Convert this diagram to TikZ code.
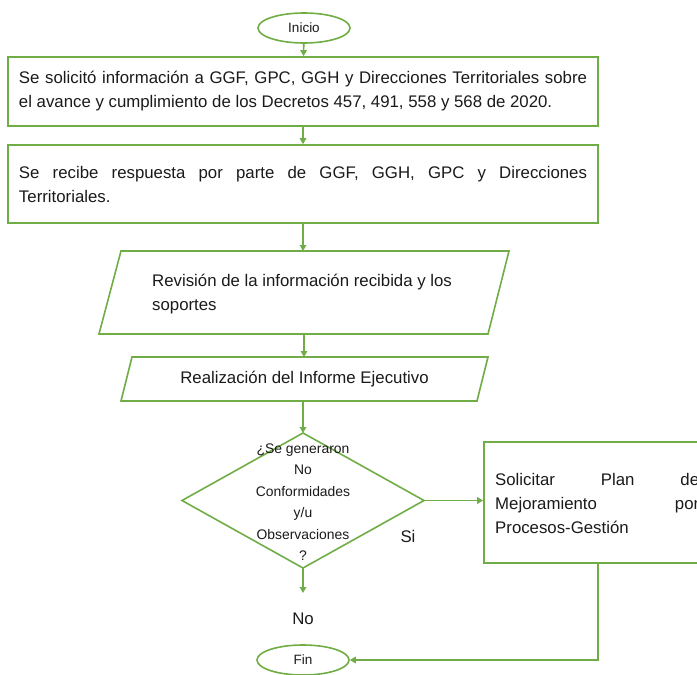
\documentclass[tikz,border=0pt]{standalone}
\usepackage{fontspec}
\setmainfont{Liberation Sans}
\usetikzlibrary{shapes.geometric,arrows.meta}
\definecolor{gr}{HTML}{70AD47}
\definecolor{tx}{HTML}{1A1A1A}
\begin{document}
\begin{tikzpicture}[x=1pt,y=-1pt,
 line/.style={draw=gr,line width=1.6pt},
 arr/.style={line,-{Triangle[width=6.5pt,length=6pt]}},
 txt/.style={text=tx,font=\fontsize{16.8}{24}\selectfont,inner sep=0pt},
 box/.style={line,rectangle,inner sep=0pt},
 term/.style={line,ellipse,minimum width=92pt,minimum height=30pt,inner sep=0pt,text=tx,font=\fontsize{13.5}{16}\selectfont},
 ghost/.style={inner sep=0pt,outer sep=0pt}]
\useasboundingbox (0,0) rectangle (697,675);
\clip (0,0) rectangle (697,675);
\hyphenpenalty=10000
% terminals
\node[term] (ini) at (304,28) {Inicio};
% box 1
\node[box,txt,minimum width=590pt,minimum height=69pt,text width=568pt,align=justify] (b1) at (303,91.5)
 {Se solicitó información a GGF, GPC, GGH y Direcciones Territoriales sobre\linebreak el avance y cumplimiento de los Decretos 457, 491, 558 y 568 de 2020.};
% box 2
\node[box,txt,minimum width=590pt,minimum height=78pt,text width=568pt,align=justify] (b2) at (303,184)
 {Se recibe respuesta por parte de GGF, GGH, GPC y Direcciones\linebreak Territoriales.};
% parallelogram 1
\node[ghost,minimum width=410pt,minimum height=83pt] (p1) at (304,292.5) {};
\draw[line] ([xshift=22pt]p1.north west) -- (p1.north east) -- ([xshift=-21pt]p1.south east) -- (p1.south west) -- cycle;
\node[txt,anchor=west,align=left] (p1t) at (152,294.5) {Revisión de la información recibida y los\\soportes};
% parallelogram 2
\node[ghost,txt,minimum width=367pt,minimum height=44pt] (p2) at (304.5,379) {Realización del Informe Ejecutivo};
\draw[line] ([xshift=11pt]p2.north west) -- (p2.north east) -- ([xshift=-11pt]p2.south east) -- (p2.south west) -- cycle;
% decision
\node[ghost,minimum width=242pt,minimum height=135pt] (d) at (303,500.5) {};
\draw[line] (d.north) -- (d.east) -- (d.south) -- (d.west) -- cycle;
\node[txt,font=\fontsize{13.9}{21.5}\selectfont,align=center] (dt) at (303,502)
 {¿Se generaron\\No\\Conformidades\\y/u\\Observaciones\\?};
% box 3
\node[box,minimum width=228pt,minimum height=121pt] (b3) at (598,502.5) {};
\node[txt,anchor=west,text width=204pt,align=justify] (b3t) at (495,503)
 {Solicitar Plan de\linebreak Mejoramiento por\linebreak Procesos-Gestión};
% labels
\node[txt] (si) at (408,536) {Si};
\node[txt] (no) at (303,619) {No};
\node[term] (fin) at (303,660) {Fin};
\coordinate (nend) at (303,593);
% connectors
\draw[arr] (ini) -- (b1);
\draw[arr] (b1) -- (b2);
\draw[arr] (b2.south) -- (b2.south |- p1.north);
\draw[arr] (p1.south) -- (p1.south |- p2.north);
\draw[arr] (d.north |- p2.south) -- (d.north);
\draw[arr] (d.south) -- (nend);
\draw[arr] (d.east) -- (b3.west |- d.east);
\draw[arr] (b3.south) |- (fin.east);
\end{tikzpicture}
\end{document}
